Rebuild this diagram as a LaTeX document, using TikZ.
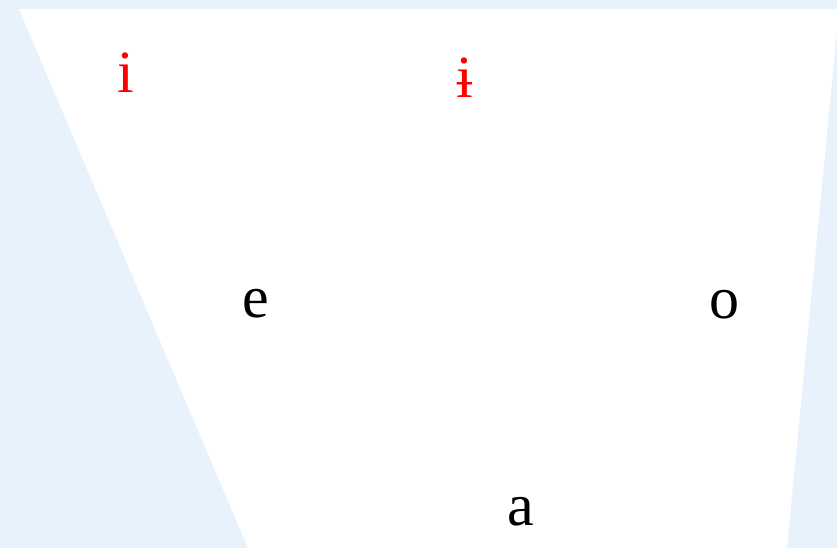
\documentclass[tikz,border=0pt]{standalone}
\usepackage{fontspec}
\setmainfont{Liberation Serif}
\definecolor{bgblue}{HTML}{E8F2FD}
\begin{document}
\begin{tikzpicture}[x=1pt,y=-1pt,
  vowel/.style={anchor=base,inner sep=0pt,font=\fontsize{60}{60}\selectfont},
  rvowel/.style={vowel,text=red}]
\useasboundingbox (0,0) rectangle (837,548);
\fill[bgblue] (0,0) rectangle (837,548);
\fill[white] (19,9) -- (839,9) -- (787,548) -- (248,548) -- cycle;
\node[rvowel] (i) at (126,93) {i};
\node[rvowel] (ibar) at (465,98) {ɨ};
\node[vowel] (e) at (256,317) {e};
\node[vowel] (o) at (724.5,318) {o};
\node[vowel] (a) at (521,525) {a};
\end{tikzpicture}
\end{document}
